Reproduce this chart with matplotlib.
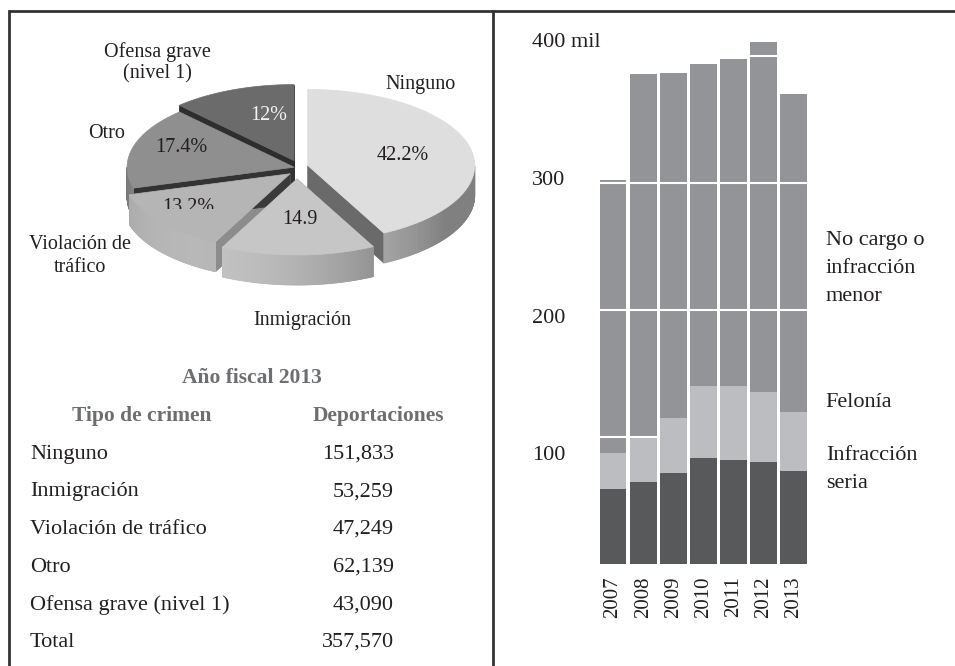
import numpy as np
import matplotlib.pyplot as plt
from matplotlib.patches import Polygon
from matplotlib.transforms import Bbox, TransformedBbox

plt.rcParams['font.family'] = ['Liberation Serif', 'DejaVu Serif']

# --- data ---
crimen = ['Ninguno', 'Inmigración', 'Violación de tráfico', 'Otro', 'Ofensa grave (nivel 1)']
deportaciones = [151833, 53259, 47249, 62139, 43090]
total = 357570
pie_names = ['Ninguno', 'Inmigración', 'Violación de\ntráfico', 'Otro', 'Ofensa grave\n(nivel 1)']
pie_pct = ['42.2%', '14.9', '13.2%', '17.4%', '12%']

years = ['2007', '2008', '2009', '2010', '2011', '2012', '2013']
seria = [59, 64.6, 71.7, 83.5, 81.9, 80.3, 73.2]
felonia = [28.4, 35, 43.3, 56.5, 58.1, 55.1, 46.5]
menor = [214.6, 286.5, 272, 254, 258, 275.6, 250.3]
ytick_vals = [100, 200, 300, 400]
ytick_labels = ['100', '200', '300', '400 mil']

TXT = '#231f20'
GRAY_TXT = '#6d6e71'

fig = plt.figure(figsize=(9.55, 6.66), dpi=100)
ax = fig.add_axes([0, 0, 1, 1])
ax.set_xlim(0, 955)
ax.set_ylim(666, 0)
ax.axis('off')

# frame
ax.plot([9, 955], [11, 11], color='#333333', lw=2, solid_capstyle='butt')
ax.plot([9, 9], [11, 666], color='#333333', lw=2)
ax.plot([493, 493], [11, 666], color='#333333', lw=2)

# --- 3D-looking pie (screen coords, y down) ---
cx, cy, rx, ry, depth = 297, 168, 167, 76, 30
fracs = np.array(deportaciones) / total
bounds = 90 - 360 * np.concatenate([[0], np.cumsum(fracs)])
explode = [11, 11, 9, 3, 8]
top_cols = ['#dedede', '#c6c6c6', '#b5b5b5', '#8f8f8f', '#6b6b6b']
wall_hi = [0.80, 0.76, 0.72, 0.55, 0.45]
wall_lo = [0.50, 0.42, 0.50, 0.38, 0.30]
cut_cols = [['#7a7a7a', '#6a6a6a'], ['#9a9a9a', '#8a8a8a'],
            ['#8c8c8c', '#3a3a3a'], ['#333333', '#333333'], ['#2e2e2e', '#2e2e2e']]

slices = []
for i in range(len(fracs)):
    a0, a1 = bounds[i], bounds[i + 1]
    mid = np.radians((a0 + a1) / 2)
    ox = explode[i] * np.cos(mid)
    oy = -explode[i] * np.sin(mid)
    slices.append((cy + oy - 0.5 * ry * np.sin(mid), i, a0, a1, ox, oy))

for _, i, a0, a1, ox, oy in sorted(slices):
    px, py = cx + ox, cy + oy
    t = np.radians(np.linspace(a0, a1, 240))
    xs = px + rx * np.cos(t)
    ys = py - ry * np.sin(t)
    # radial cut faces
    for k, a in enumerate([a0, a1]):
        ar = np.radians(a)
        ex, ey = px + rx * np.cos(ar), py - ry * np.sin(ar)
        quad = [(px, py), (ex, ey), (ex, ey + depth), (px, py + depth)]
        ax.add_patch(Polygon(quad, closed=True, facecolor=cut_cols[i][k],
                             edgecolor=cut_cols[i][k], lw=0.5, zorder=2))
    # outer wall with shading
    for k in range(len(t) - 1):
        tm = (t[k] + t[k + 1]) / 2
        if np.sin(tm) >= 0:
            continue
        light = max(0.0, np.cos(tm + np.radians(125)))
        g = wall_lo[i] + (wall_hi[i] - wall_lo[i]) * light
        c = (g, g, g)
        quad = [(xs[k], ys[k]), (xs[k + 1], ys[k + 1]),
                (xs[k + 1], ys[k + 1] + depth), (xs[k], ys[k] + depth)]
        ax.add_patch(Polygon(quad, closed=True, facecolor=c, edgecolor=c,
                             lw=0.6, zorder=2))
    # top face
    top = np.column_stack([np.concatenate([[px], xs]), np.concatenate([[py], ys])])
    ax.add_patch(Polygon(top, closed=True, facecolor=top_cols[i],
                         edgecolor=top_cols[i], lw=0.5, zorder=2))

# pie labels
name_pos = [(421, 84), (302, 320), (80, 256), (107, 134), (157, 63)]
for name, (x, y) in zip(pie_names, name_pos):
    lines = name.split('\n')
    n = len(lines)
    for j, line in enumerate(lines):
        ax.text(x, y + (j - (n - 1) / 2) * 22.5, line, ha='center', va='center',
                fontsize=14.5, color=TXT, zorder=5)

pct_pos = [(403, 155), (300, 220), (188, 207), (181, 147), (269, 115)]
pct_col = [TXT, TXT, TXT, TXT, '#f2f2f2']
for k, (lab, (x, y)) in enumerate(zip(pie_pct, pct_pos)):
    t = ax.text(x, y, lab, ha='center', va='center', fontsize=14.5,
                color=pct_col[k], zorder=5)
    if k == 2:
        # label is partly hidden in the original
        t.set_clip_on(True)
        t.set_clip_path(None)
        t.set_clip_box(TransformedBbox(Bbox([[140, 180], [240, 208.5]]), ax.transData))

# --- table ---
ax.text(252, 378, 'Año fiscal 2013', ha='center', va='center', fontsize=15.5,
        fontweight='bold', color=GRAY_TXT)
ax.text(142, 416, 'Tipo de crimen', ha='center', va='center', fontsize=15.5,
        fontweight='bold', color=GRAY_TXT)
ax.text(378, 416, 'Deportaciones', ha='center', va='center', fontsize=15.5,
        fontweight='bold', color=GRAY_TXT)
rows = list(zip(crimen, deportaciones)) + [('Total', total)]
for r, (name, val) in enumerate(rows):
    y = 454 + r * 37.7
    ax.text(30, y, name, ha='left', va='center', fontsize=16, color=TXT)
    ax.text(394, y, f'{val:,}', ha='right', va='center', fontsize=16, color=TXT)

# --- stacked bars ---
ax2 = fig.add_axes([583 / 955, 102 / 666, 331 / 955, 533.4 / 666])
ax2.set_xlim(-1, 10)
ax2.set_ylim(0, 420)
ax2.axis('off')
x = np.arange(len(years))
seria_a = np.array(seria)
felonia_a = np.array(felonia)
ax2.bar(x, menor, 0.89, bottom=seria_a + felonia_a, color='#939498', zorder=1)
for v in ytick_vals:
    ax2.axhline(v, color='white', lw=1.5, zorder=2)
ax2.bar(x, felonia, 0.89, bottom=seria_a, color='#bcbdc1', zorder=3)
ax2.bar(x, seria, 0.89, color='#58595b', zorder=3)

label_y = [85.8, 193.7, 301.6, 411]
for lab, yv in zip(ytick_labels, label_y):
    ax2.text(-2.69, yv, lab, ha='left', va='center', fontsize=16, color=TXT)
for xi, yr in zip(x, years):
    ax2.text(xi, -26, yr, rotation=90, ha='center', va='center', fontsize=15, color=TXT)

right_labels = [(['No cargo o', 'infracción', 'menor'], 255), (['Felonía'], 126.8),
                (['Infracción', 'seria'], 85.8)]
for lines, ytop in right_labels:
    for j, line in enumerate(lines):
        ax2.text(7.07, ytop - j * 22.2, line, ha='left', va='center',
                 fontsize=16, color=TXT)

fig.savefig('out.png', dpi=100)
